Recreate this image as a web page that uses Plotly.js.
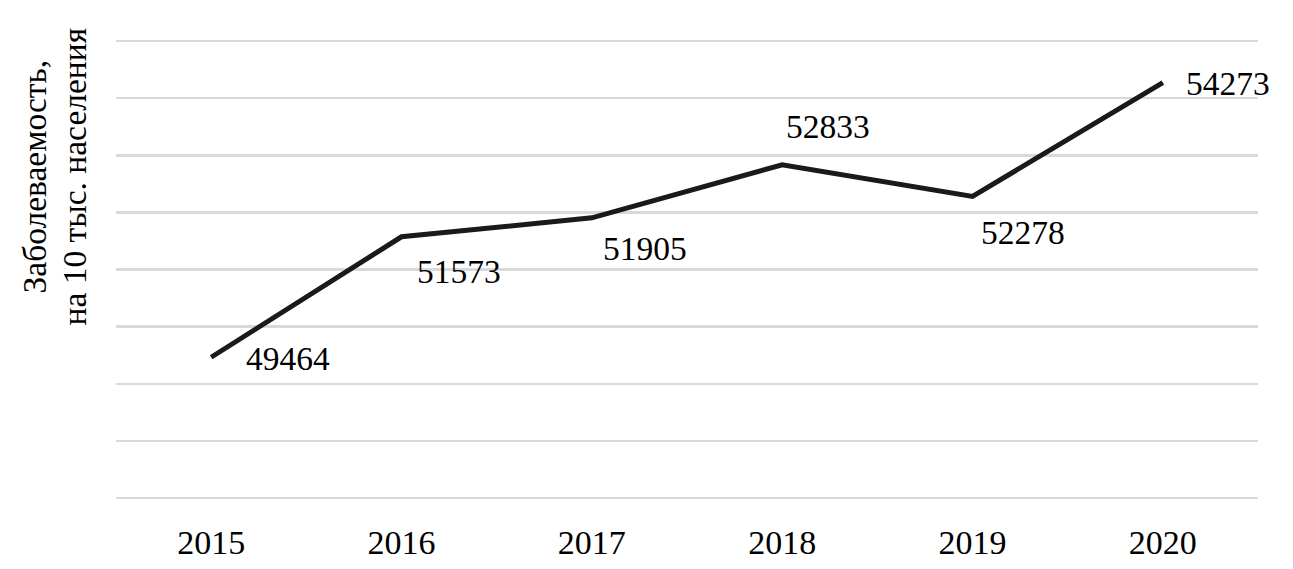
<!DOCTYPE html>
<html>
<head>
<meta charset="utf-8">
<script src="https://cdn.plot.ly/plotly-3.0.1.min.js"></script>
<style>
  html, body { margin: 0; padding: 0; background: #ffffff; }
  #chart { width: 1293px; height: 569px; }
</style>
</head>
<body>
<div id="chart"></div>
<script>
// ---- data ----
var years = ['2015', '2016', '2017', '2018', '2019', '2020'];
var incidence = [49464, 51573, 51905, 52833, 52278, 54273];
var yTitleLines = ['Заболеваемость,', 'на 10 тыс. населения'];

// ---- label placement (pixel offsets from each point) ----
var labelShiftX = [77, 57, 53, 46, 50, 65];
var labelShiftY = [-1, -35, -31, 38, -36, -1];

var TICKFONT = 'Liberation Serif, Times New Roman, serif';
var LABELFONT = 'Times New Roman, Liberation Serif, serif';
var FS = 34;
var LFS = 33.5;

var trace = {
  type: 'scatter',
  mode: 'lines',
  x: years,
  y: incidence,
  line: { color: '#1a1a1a', width: 5 },
  hoverinfo: 'x+y'
};

var annotations = years.map(function (yr, i) {
  return {
    xref: 'x', yref: 'y',
    x: i, y: incidence[i],
    text: String(incidence[i]),
    showarrow: false,
    xanchor: 'center', yanchor: 'middle',
    xshift: labelShiftX[i], yshift: labelShiftY[i],
    font: { family: LABELFONT, size: LFS, color: '#000' }
  };
});

var titleShiftX = [-82.5, -42.5];
yTitleLines.forEach(function (t, i) {
  annotations.push({
    xref: 'paper', yref: 'paper',
    x: 0, y: 1,
    xshift: titleShiftX[i], yshift: -138,
    text: t,
    textangle: -90,
    showarrow: false,
    xanchor: 'center', yanchor: 'middle',
    font: { family: LABELFONT, size: LFS, color: '#000' }
  });
});

var layout = {
  width: 1293,
  height: 569,
  margin: { l: 116, r: 35, t: 39, b: 69 },
  paper_bgcolor: '#ffffff',
  plot_bgcolor: '#ffffff',
  showlegend: false,
  font: { family: TICKFONT, size: FS },
  xaxis: {
    type: 'category',
    range: [-0.5, 5.5],
    showgrid: false,
    zeroline: false,
    showline: false,
    ticks: '',
    ticklabelstandoff: 19,
    tickfont: { family: TICKFONT, size: FS, color: '#000' }
  },
  yaxis: {
    range: [46965, 55035],
    tick0: 47000,
    dtick: 1000,
    showgrid: true,
    gridcolor: '#d9d9d9',
    gridwidth: 2.5,
    zeroline: false,
    showline: false,
    showticklabels: false,
    ticks: ''
  },
  annotations: annotations
};

Plotly.newPlot('chart', [trace], layout, { displayModeBar: false, staticPlot: true });
</script>
</body>
</html>
